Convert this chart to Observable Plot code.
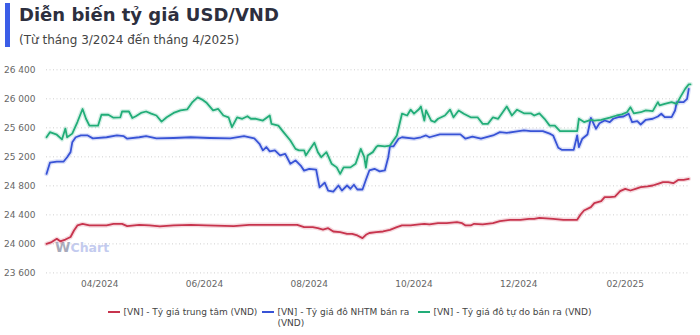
<!DOCTYPE html>
<html>
<head>
<meta charset="utf-8">
<script src="https://cdn.jsdelivr.net/npm/d3@7"></script>
<script src="https://cdn.jsdelivr.net/npm/@observablehq/plot@0.6"></script>
<style>
  body { margin: 0; background: #fff; font-family: "DejaVu Sans", sans-serif; }
  #wrap { position: relative; width: 700px; height: 335px; overflow: hidden; background: #fff; }
  .bar { position: absolute; left: 5px; top: 3px; width: 5px; height: 44px; background: #3b5de7; }
  .title { position: absolute; left: 19px; top: 3.5px; font-size: 18px; line-height: 22px; font-weight: bold; color: #2d2f3e; white-space: nowrap; }
  .sub { position: absolute; left: 19px; top: 32.3px; font-size: 12px; line-height: 16px; color: #444; white-space: nowrap; }
  .wm { position: absolute; left: 55px; top: 240px; font-weight: bold; line-height: 14px; white-space: nowrap; }
  .wm .w { font-size: 14px; color: #a7aabb; }
  .wm .c { font-size: 12.5px; color: #c3cbef; }
  #chart { position: absolute; left: 0; top: 50px; }
  .legend { position: absolute; left: 0; top: 306.5px; width: 700px; display: flex; justify-content: center; gap: 5px; font-size: 9px; line-height: 11px; color: #444; }
  .item { display: flex; align-items: flex-start; }
  .sw { width: 12px; height: 2px; margin-top: 4.5px; margin-right: 3px; flex: none; }
</style>
</head>
<body>
<div id="wrap">
  <div class="bar"></div>
  <div class="title">Diễn biến tỷ giá USD/VND</div>
  <div class="sub">(Từ tháng 3/2024 đến tháng 4/2025)</div>
  <div class="wm"><span class="w">W</span><span class="c">Chart</span></div>
  <div id="chart"></div>
  <div class="legend" id="legend"></div>
</div>
<script>
const seriesNames = [
  "[VN] - Tỷ giá trung tâm (VND)",
  "[VN] - Tỷ giá đô NHTM bán ra (VND)",
  "[VN] - Tỷ giá đô tự do bán ra (VND)"
];
const seriesColors = ["#c7344d", "#3853d6", "#22ad78"];
const yTicks = [23600, 24000, 24400, 24800, 25200, 25600, 26000, 26400];
const xTicks = ["2024-04-01", "2024-06-01", "2024-08-01", "2024-10-01", "2024-12-01", "2025-02-01"];

const centralRate = [
["2024-03-01",24000],["2024-03-04",24025],["2024-03-07",24070],["2024-03-09",24035],["2024-03-12",24060],
["2024-03-15",24095],["2024-03-17",24185],["2024-03-19",24255],["2024-03-22",24275],["2024-03-26",24255],
["2024-04-05",24255],["2024-04-09",24275],["2024-04-14",24275],["2024-04-17",24245],["2024-04-24",24263],
["2024-04-30",24255],["2024-05-06",24240],["2024-05-14",24255],["2024-05-24",24263],["2024-06-02",24255],
["2024-06-18",24245],["2024-06-27",24263],["2024-07-07",24263],["2024-07-17",24263],["2024-07-25",24263],
["2024-07-29",24231],["2024-08-03",24231],["2024-08-06",24217],["2024-08-09",24198],["2024-08-12",24217],
["2024-08-15",24171],["2024-08-19",24162],["2024-08-23",24139],["2024-08-26",24139],["2024-08-29",24116],
["2024-09-01",24079],["2024-09-03",24125],["2024-09-05",24150],["2024-09-09",24162],["2024-09-13",24171],
["2024-09-17",24194],["2024-09-21",24231],["2024-09-24",24254],["2024-09-29",24254],["2024-10-04",24268],
["2024-10-07",24277],["2024-10-10",24268],["2024-10-15",24286],["2024-10-20",24286],["2024-10-26",24300],
["2024-10-29",24286],["2024-10-31",24254],["2024-11-03",24254],["2024-11-05",24277],["2024-11-10",24268],
["2024-11-16",24286],["2024-11-20",24314],["2024-11-26",24332],["2024-12-02",24332],["2024-12-07",24346],
["2024-12-10",24346],["2024-12-13",24360],["2024-12-21",24346],["2024-12-27",24332],["2025-01-04",24332],
["2025-01-06",24405],["2025-01-08",24460],["2025-01-12",24506],["2025-01-14",24561],["2025-01-16",24575],
["2025-01-18",24589],["2025-01-20",24644],["2025-01-23",24644],["2025-01-26",24653],["2025-01-29",24727],
["2025-02-01",24759],["2025-02-04",24736],["2025-02-07",24759],["2025-02-10",24782],["2025-02-14",24792],
["2025-02-17",24805],["2025-02-20",24828],["2025-02-23",24851],["2025-02-26",24851],["2025-03-01",24837],
["2025-03-04",24883],["2025-03-07",24883],["2025-03-10",24897]
];

const bankSell = [
["2024-03-01",24965],["2024-03-03",25120],["2024-03-07",25135],["2024-03-11",25135],["2024-03-13",25195],
["2024-03-15",25265],["2024-03-16",25400],["2024-03-18",25470],["2024-03-21",25495],["2024-03-25",25495],
["2024-03-28",25455],["2024-04-05",25470],["2024-04-11",25495],["2024-04-15",25485],["2024-04-17",25450],
["2024-04-24",25470],["2024-04-28",25485],["2024-05-04",25455],["2024-05-14",25460],["2024-05-24",25470],
["2024-06-04",25460],["2024-06-16",25455],["2024-06-24",25485],["2024-06-30",25455],["2024-07-03",25380],
["2024-07-05",25290],["2024-07-07",25335],["2024-07-09",25275],["2024-07-12",25290],["2024-07-15",25220],
["2024-07-18",25240],["2024-07-21",25105],["2024-07-24",25150],["2024-07-27",25080],["2024-07-29",25010],
["2024-08-01",25035],["2024-08-05",25025],["2024-08-07",24780],["2024-08-10",24845],["2024-08-12",24735],
["2024-08-15",24720],["2024-08-18",24805],["2024-08-20",24735],["2024-08-23",24805],["2024-08-25",24760],
["2024-08-27",24815],["2024-08-29",24750],["2024-09-01",24750],["2024-09-03",24885],["2024-09-05",25012],
["2024-09-08",25035],["2024-09-11",25000],["2024-09-14",25012],["2024-09-16",25195],["2024-09-17",25343],
["2024-09-19",25343],["2024-09-22",25450],["2024-09-24",25470],["2024-10-01",25450],["2024-10-05",25470],
["2024-10-08",25495],["2024-10-10",25470],["2024-10-16",25510],["2024-10-28",25510],["2024-10-31",25450],
["2024-11-04",25480],["2024-11-09",25450],["2024-11-16",25495],["2024-11-20",25540],["2024-11-24",25530],
["2024-11-30",25550],["2024-12-04",25565],["2024-12-08",25555],["2024-12-15",25555],["2024-12-19",25520],
["2024-12-21",25495],["2024-12-24",25325],["2024-12-26",25297],["2025-01-02",25297],["2025-01-04",25495],
["2025-01-05",25333],["2025-01-07",25450],["2025-01-10",25508],["2025-01-12",25738],["2025-01-15",25587],
["2025-01-17",25664],["2025-01-20",25701],["2025-01-23",25678],["2025-01-25",25725],["2025-01-28",25747],
["2025-01-31",25756],["2025-02-03",25794],["2025-02-05",25678],["2025-02-08",25692],["2025-02-10",25646],
["2025-02-13",25711],["2025-02-17",25725],["2025-02-20",25756],["2025-02-22",25794],["2025-02-24",25747],
["2025-02-28",25747],["2025-03-02",25839],["2025-03-03",25953],["2025-03-07",25953],["2025-03-09",26000],
["2025-03-10",26138]
];

const freeSell = [
["2024-03-01",25470],["2024-03-03",25540],["2024-03-07",25505],["2024-03-10",25440],["2024-03-12",25590],
["2024-03-13",25470],["2024-03-16",25520],["2024-03-19",25680],["2024-03-22",25860],["2024-03-24",25725],
["2024-03-26",25630],["2024-03-31",25630],["2024-04-02",25780],["2024-04-06",25780],["2024-04-09",25740],
["2024-04-13",25745],["2024-04-14",25825],["2024-04-18",25825],["2024-04-20",25735],["2024-04-22",25760],
["2024-04-25",25805],["2024-04-28",25825],["2024-05-01",25795],["2024-05-04",25770],["2024-05-07",25685],
["2024-05-10",25745],["2024-05-14",25805],["2024-05-18",25840],["2024-05-22",25855],["2024-05-25",25955],
["2024-05-28",26020],["2024-05-31",25985],["2024-06-02",25950],["2024-06-06",25840],["2024-06-09",25860],
["2024-06-12",25770],["2024-06-15",25745],["2024-06-17",25610],["2024-06-20",25745],["2024-06-23",25725],
["2024-06-26",25760],["2024-06-28",25725],["2024-07-01",25725],["2024-07-05",25700],["2024-07-09",25770],
["2024-07-10",25655],["2024-07-14",25630],["2024-07-17",25540],["2024-07-21",25425],["2024-07-24",25310],
["2024-07-26",25290],["2024-07-29",25290],["2024-07-30",25220],["2024-08-01",25290],["2024-08-04",25395],
["2024-08-06",25265],["2024-08-08",25195],["2024-08-11",25265],["2024-08-14",25105],["2024-08-17",25055],
["2024-08-19",24965],["2024-08-21",25055],["2024-08-25",25055],["2024-08-28",25105],["2024-08-31",25310],
["2024-09-02",25200],["2024-09-03",25050],["2024-09-04",25220],["2024-09-07",25265],["2024-09-09",25335],
["2024-09-10",25355],["2024-09-14",25345],["2024-09-17",25355],["2024-09-21",25495],["2024-09-24",25795],
["2024-09-27",25770],["2024-09-29",25850],["2024-10-01",25795],["2024-10-04",25860],["2024-10-05",25895],
["2024-10-07",25700],["2024-10-08",25840],["2024-10-11",25700],["2024-10-13",25680],["2024-10-15",25725],
["2024-10-19",25770],["2024-10-22",25850],["2024-10-24",25745],["2024-10-27",25840],["2024-10-30",25795],
["2024-11-03",25745],["2024-11-07",25745],["2024-11-10",25655],["2024-11-13",25655],["2024-11-16",25745],
["2024-11-19",25725],["2024-11-24",25895],["2024-11-27",25770],["2024-11-30",25850],["2024-12-04",25800],
["2024-12-08",25800],["2024-12-10",25770],["2024-12-13",25800],["2024-12-16",25725],["2024-12-19",25630],
["2024-12-22",25630],["2024-12-25",25555],["2025-01-04",25555],["2025-01-05",25725],["2025-01-08",25680],
["2025-01-12",25710],["2025-01-14",25700],["2025-01-18",25710],["2025-01-23",25740],["2025-01-27",25770],
["2025-01-30",25785],["2025-02-02",25815],["2025-02-04",25885],["2025-02-06",25800],["2025-02-10",25815],
["2025-02-13",25840],["2025-02-17",25830],["2025-02-20",25955],["2025-02-21",25910],["2025-02-24",25930],
["2025-02-28",25955],["2025-03-03",25930],["2025-03-05",26020],["2025-03-08",26140],["2025-03-10",26200],
["2025-03-11",26200]
];

const seriesData = [centralRate, bankSell, freeSell];
const rows = seriesData.flatMap((arr, i) =>
  arr.map(([d, v]) => ({ date: new Date(d), value: v, series: seriesNames[i] }))
);

const fmt = d => d3.format(",")(d).replace(/,/g, " ");

const chart = Plot.plot({
  width: 700,
  height: 245,
  marginTop: 19.3,
  marginBottom: 22.6,
  marginLeft: 46,
  marginRight: 10,
  style: { fontFamily: "DejaVu Sans, sans-serif", fontSize: "9px", color: "#666", background: "transparent", overflow: "visible" },
  x: { type: "utc", domain: [new Date("2024-03-01"), new Date("2025-03-11")], label: null },
  y: { domain: [23600, 26400], label: null },
  color: { domain: seriesNames, range: seriesColors },
  marks: [
    Plot.ruleY(yTicks, { stroke: "#cfcfcf", strokeDasharray: "1,2.5", strokeWidth: 1 }),
    Plot.axisY({ ticks: yTicks, tickSize: 0, tickPadding: 11, tickFormat: fmt, fill: "#666" }),
    Plot.axisX({ ticks: xTicks.map(d => new Date(d)), tickSize: 0, tickPadding: 8, tickFormat: d3.utcFormat("%m/%Y"), fill: "#666" }),
    Plot.line(rows, { x: "date", y: "value", z: "series", stroke: "series", strokeWidth: 4.5, strokeOpacity: 0.18, curve: "linear" }),
    Plot.line(rows, { x: "date", y: "value", z: "series", stroke: "series", strokeWidth: 1.8, curve: "linear" })
  ]
});
document.getElementById("chart").appendChild(chart);

const legend = document.getElementById("legend");
seriesNames.forEach((name, i) => {
  const item = document.createElement("div");
  item.className = "item";
  const sw = document.createElement("span");
  sw.className = "sw";
  sw.style.background = seriesColors[i];
  const tx = document.createElement("span");
  tx.textContent = name;
  if (i === 1) tx.style.maxWidth = "136px";
  item.appendChild(sw);
  item.appendChild(tx);
  legend.appendChild(item);
});
</script>
</body>
</html>
